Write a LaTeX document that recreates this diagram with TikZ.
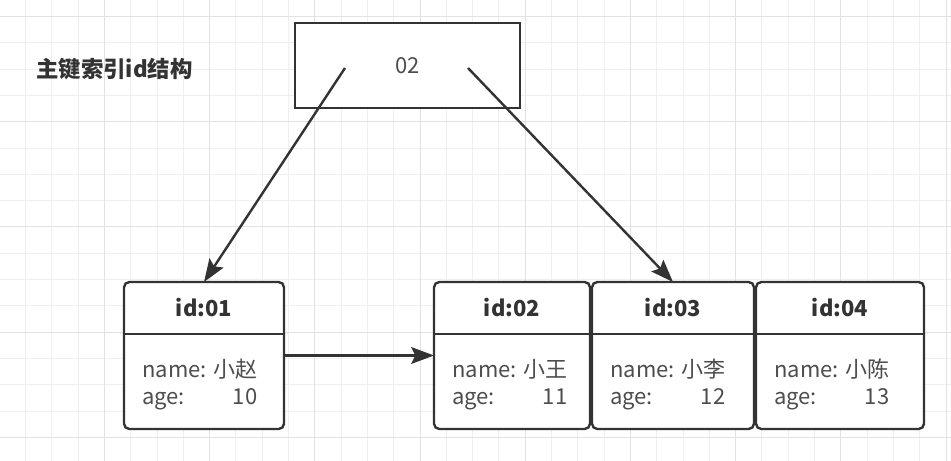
\documentclass[tikz,border=0pt]{standalone}
\usepackage{fontspec}
\setmainfont{Noto Sans CJK SC}
\usetikzlibrary{arrows.meta,calc}
\definecolor{gminor}{HTML}{EFEFEF}
\definecolor{gmajor}{HTML}{E2E2E2}
\definecolor{edge}{HTML}{333333}
\definecolor{txtgray}{HTML}{4D4D4D}
\begin{document}
\begin{tikzpicture}[x=0.75pt,y=-0.75pt,
  minor/.style={gminor,line width=0.75pt},
  major/.style={gmajor,line width=0.75pt},
  rec/.style={draw=edge,line width=1.8pt,rounded corners=4pt,inner sep=0pt,outer sep=0pt,minimum height=110.25pt},
  rootbox/.style={draw=edge,line width=2.1pt,inner sep=0pt,outer sep=0pt,minimum width=168.75pt,minimum height=63.75pt,font=\fontsize{16.5}{19}\selectfont,text=txtgray},
  divider/.style={draw=edge,line width=1.8pt},
  hdr/.style={font=\fontsize{16.5}{19}\selectfont\bfseries,text=edge,inner sep=0pt,anchor=base},
  txt/.style={font=\fontsize{16.5}{19}\selectfont,text=txtgray,inner sep=0pt},
  titletxt/.style={font=\fontsize{16.8}{20}\selectfont\bfseries,text=edge,inner sep=0pt,anchor=base west},
  arr/.style={draw=edge,line width=1.8pt,-{Stealth[length=17pt,width=12.5pt,inset=3pt]}},
]
\useasboundingbox (0,0) rectangle (951,461);
\fill[white] (0,0) rectangle (951,461);
% grid
\foreach \i in {0,...,36} \draw[minor] ({26.3*\i-0.8},0) -- ({26.3*\i-0.8},461);
\foreach \j in {0,...,17} \draw[minor] (0,{16.5+26.3*\j}) -- (951,{16.5+26.3*\j});
\foreach \i in {1,...,9} \draw[major] ({105.2*\i-0.8},0) -- ({105.2*\i-0.8},461);
\foreach \j in {0,...,4} \draw[major] (0,{16.5+105.2*\j}) -- (951,{16.5+105.2*\j});

% title and root
\node[titletxt] (title) at (36,77) {主键索引id结构};
\node[rootbox,fill=white] (root) at (407.5,65.5) {02};

% record boxes
\node[rec,fill=white,minimum width=120pt] (b1) at (204,355.5) {};
\node[rec,fill=white,minimum width=117pt] (b2) at (512,355.5) {};
\node[rec,fill=white,minimum width=121.5pt] (b3) at (673,355.5) {};
\node[rec,fill=white,minimum width=126pt] (b4) at (840,355.5) {};

\foreach \b/\id/\nm/\ag in {b1/01/小赵/10, b2/02/小王/11, b3/03/小李/12, b4/04/小陈/13}{
  \draw[divider] ($(\b.north west)+(0,52)$) -- ($(\b.north east)+(0,52)$);
  \node[hdr] (h\b) at ($(\b.north)+(0,34.7)$) {id:\id};
  \node[txt,anchor=base west] (n\b) at ($(\b.north west)+(18,95)$) {name: \nm};
  \node[txt,anchor=base west] (a\b) at ($(\b.north west)+(18,122)$) {age:};
  \node[txt,anchor=base east] (v\b) at ($(n\b.base east)+(0,27)$) {\ag};
}

% connectors
\coordinate (s1) at (345,68);
\coordinate (s2) at (468,68);
\draw[arr] (s1) -- (b1.north);
\draw[arr] (s2) -- (b3.north);
\draw[arr] (b1.east) -- (b2.west);
\end{tikzpicture}
\end{document}
